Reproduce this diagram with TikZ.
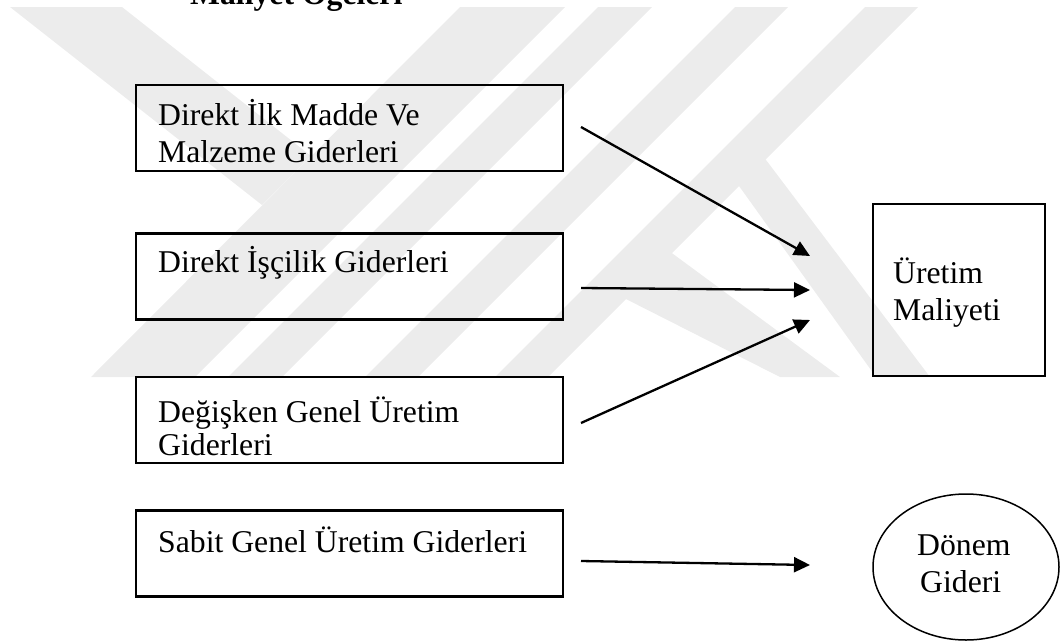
\documentclass[tikz,border=0pt]{standalone}
\usepackage{fontspec}
\setmainfont{Liberation Serif}
\usetikzlibrary{arrows.meta,shapes.geometric}
\definecolor{markgray}{gray}{0.925}
\begin{document}
\begin{tikzpicture}[x=1pt,y=-1pt,
  every node/.style={font=\fontsize{31.7}{37}\selectfont},
  txt/.style={anchor=base west, inner sep=0pt},
  srcbox/.style={draw, line width=2.3pt, minimum width=427pt, minimum height=86pt, inner sep=0pt},
  resbox/.style={draw, line width=1.6pt, minimum width=172pt, minimum height=172pt, inner sep=0pt},
  resoval/.style={draw, ellipse, line width=1.5pt, minimum width=186pt, minimum height=146pt, inner sep=0pt},
  conn/.style={line width=2.3pt, -{Triangle[length=16pt,width=15pt]}},
  band/.style={fill=markgray, draw=none}
]
\useasboundingbox (0,0) rectangle (1060,643);

% faint background emblem made of diagonal bands
\begin{scope}
  \clip (0,7) rectangle (1060,377);
  \fill[band] (10,7) -- (122,7) -- (311,156) -- (262,205) -- cycle;
  \fill[band] (460,7) -- (565,7) -- (195,377) -- (91,377) -- cycle;
  \fill[band] (598,7) -- (652,7) -- (282,377) -- (228,377) -- cycle;
  \fill[band] (735,7) -- (788,7) -- (418,377) -- (365,377) -- cycle;
  \fill[band] (865,7) -- (918,7) -- (548,377) -- (495,377) -- cycle;
  \fill[band] (760,152) -- (930,377) -- (876,377) -- (734,179) -- cycle;
  \fill[band] (665,248) -- (840,377) -- (780,377) -- (618,295) -- cycle;
\end{scope}

% heading
\node[txt, font=\fontsize{31.7}{37}\selectfont\bfseries] (title) at (190,4) {Maliyet Öğeleri};

% cost items
\node[srcbox] (b1) at (349.5,128) {};
\node[srcbox] (b2) at (349.5,276.5) {};
\node[srcbox] (b3) at (349.5,420) {};
\node[srcbox] (b4) at (349.5,553.5) {};

\node[txt] (t1a) at (158,125) {Direkt İlk Madde Ve};
\node[txt] (t1b) at (158,162) {Malzeme Giderleri};
\node[txt] (t2) at (158,272) {Direkt İşçilik Giderleri};
\node[txt] (t3a) at (158,422) {Değişken Genel Üretim};
\node[txt] (t3b) at (158,455) {Giderleri};
\node[txt] (t4) at (158,552) {Sabit Genel Üretim Giderleri};

% results
\node[resbox] (uretim) at (959,290) {};
\node[txt] (u1) at (893,283) {Üretim};
\node[txt] (u2) at (893,320) {Maliyeti};

\node[resoval] (donem) at (966,567) {};
\node[txt] (d1) at (917,555) {Dönem};
\node[txt] (d2) at (920,592) {Gideri};

% connectors
\coordinate (s1) at (581,127);
\coordinate (e1) at (810,256);
\coordinate (s2) at (581,288);
\coordinate (e2) at (810,290);
\coordinate (s3) at (581,423);
\coordinate (e3) at (810,320);
\coordinate (s4) at (581,561);
\coordinate (e4) at (810,565);
\draw[conn] (s1) -- (e1);
\draw[conn] (s2) -- (e2);
\draw[conn] (s3) -- (e3);
\draw[conn] (s4) -- (e4);
\end{tikzpicture}
\end{document}
